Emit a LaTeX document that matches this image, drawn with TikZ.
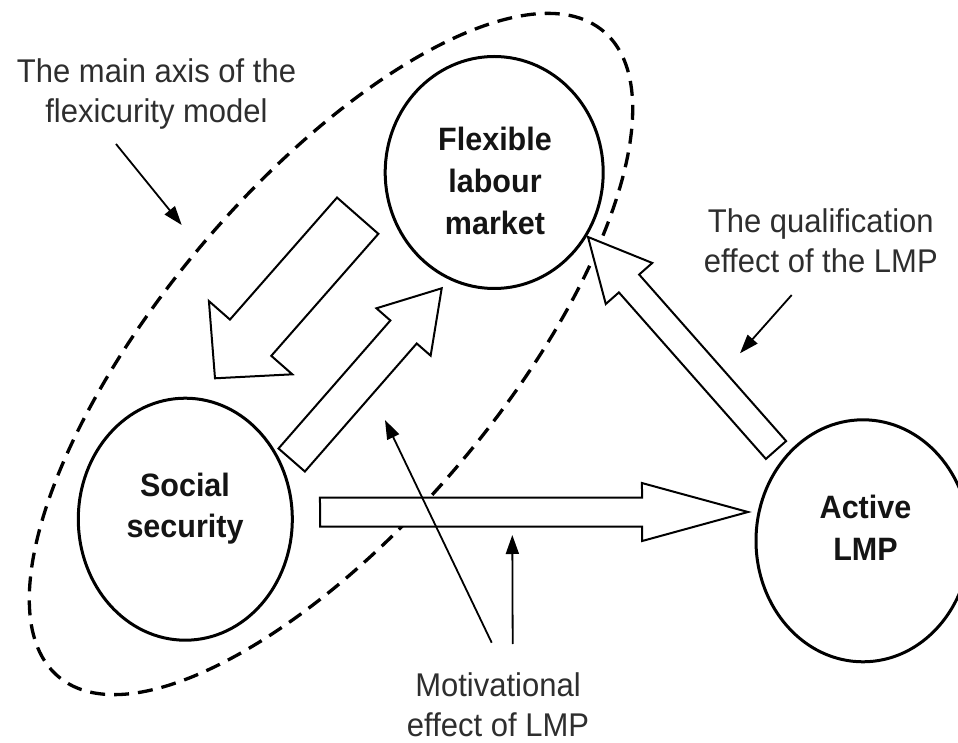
\documentclass[tikz,border=0pt]{standalone}
\usepackage{fontspec}
\setmainfont{Liberation Sans}
\usetikzlibrary{calc,arrows.meta,shapes.geometric}
% #1 tail, #2 tip, #3 half shaft width, #4 half head width, #5 head length
\newcommand\blkarrow[5]{%
  \coordinate (hb) at ($(#2)!#5!(#1)$);
  \draw[barrow] ($(#1)!#3!90:(#2)$) -- ($(hb)!#3!-90:(#1)$) -- ($(hb)!#4!-90:(#1)$)
    -- (#2) -- ($(hb)!#4!90:(#1)$) -- ($(hb)!#3!90:(#1)$) -- ($(#1)!#3!-90:(#2)$) -- cycle;
}
\begin{document}
\begin{tikzpicture}[x=1pt,y=1pt,
  ring/.style={ellipse, draw, line width=3pt, inner sep=0pt},
  boldtxt/.style={font=\fontsize{30.5}{39.2}\selectfont\bfseries, text=black!92, align=center, inner sep=0pt, yscale=1.06},
  lbl/.style={font=\fontsize{31}{37.7}\selectfont, text=black!82, align=center, inner sep=0pt, yscale=1.06},
  barrow/.style={draw, fill=white, line width=2pt, line join=miter},
  ptr/.style={line width=1.8pt, -{Triangle[length=19pt,width=13pt]}},
  axisline/.style={line width=3.3pt, dash pattern=on 15pt off 9pt}]
\useasboundingbox (0,0) rectangle (958,742);

% main axis (dashed ellipse)
\draw[axisline, rotate around={49.8:(331,388)}] (331,388) ellipse [x radius=422.4pt, y radius=169pt];

% circles
\node[ring, minimum width=218pt, minimum height=232pt] (flex) at (494.2,569.5) {};
\node[ring, minimum width=214pt, minimum height=242pt] (soc) at (185.3,222.8) {};
\node[ring, minimum width=214pt, minimum height=242pt] (alm) at (863,201.2) {};

% block arrows
\coordinate (fs-a) at (357.7,526.3); \coordinate (fs-b) at (215,363.7);
\blkarrow{fs-a}{fs-b}{27.5pt}{55.5pt}{54pt}
\coordinate (sf-a) at (291.7,282); \coordinate (sf-b) at (441.7,453.7);
\blkarrow{sf-a}{sf-b}{17.5pt}{36pt}{58pt}
\coordinate (sa-a) at (320,229.8); \coordinate (sa-b) at (748,230);
\blkarrow{sa-a}{sa-b}{14.5pt}{29pt}{106pt}
\coordinate (af-a) at (776,292); \coordinate (af-b) at (588,505);
\blkarrow{af-a}{af-b}{13.5pt}{31pt}{62pt}

% texts in circles
\node[boldtxt] (flex-t) at (495,561) {Flexible\\labour\\market};
\node[boldtxt] (soc-t) at (185,233.4) {Social\\security};
\node[boldtxt] (alm-t) at (865.5,214) {Active\\LMP};

% labels
\node[lbl] (l-axis) at (156.5,648.4) {The main axis of the\\flexicurity model};
\node[lbl] (l-qual) at (820.8,501.6) {The qualification\\effect of the LMP};
\node[lbl] (l-mot) at (498,37) {Motivational\\effect of LMP};

% pointer arrows
\coordinate (ax-s) at (116,598); \coordinate (ax-e) at (181.7,517);
\draw[ptr] (ax-s) -- (ax-e);
\coordinate (q-s) at (791.7,447); \coordinate (q-e) at (740,388.7);
\draw[ptr] (q-s) -- (q-e);
\coordinate (m1-s) at (491.7,99.3); \coordinate (m1-e) at (385,322);
\draw[ptr] (m1-s) -- (m1-e);
\coordinate (m2-s) at (512.7,98); \coordinate (m2-e) at (512.3,207);
\draw[ptr] (m2-s) -- (m2-e);
\end{tikzpicture}
\end{document}
